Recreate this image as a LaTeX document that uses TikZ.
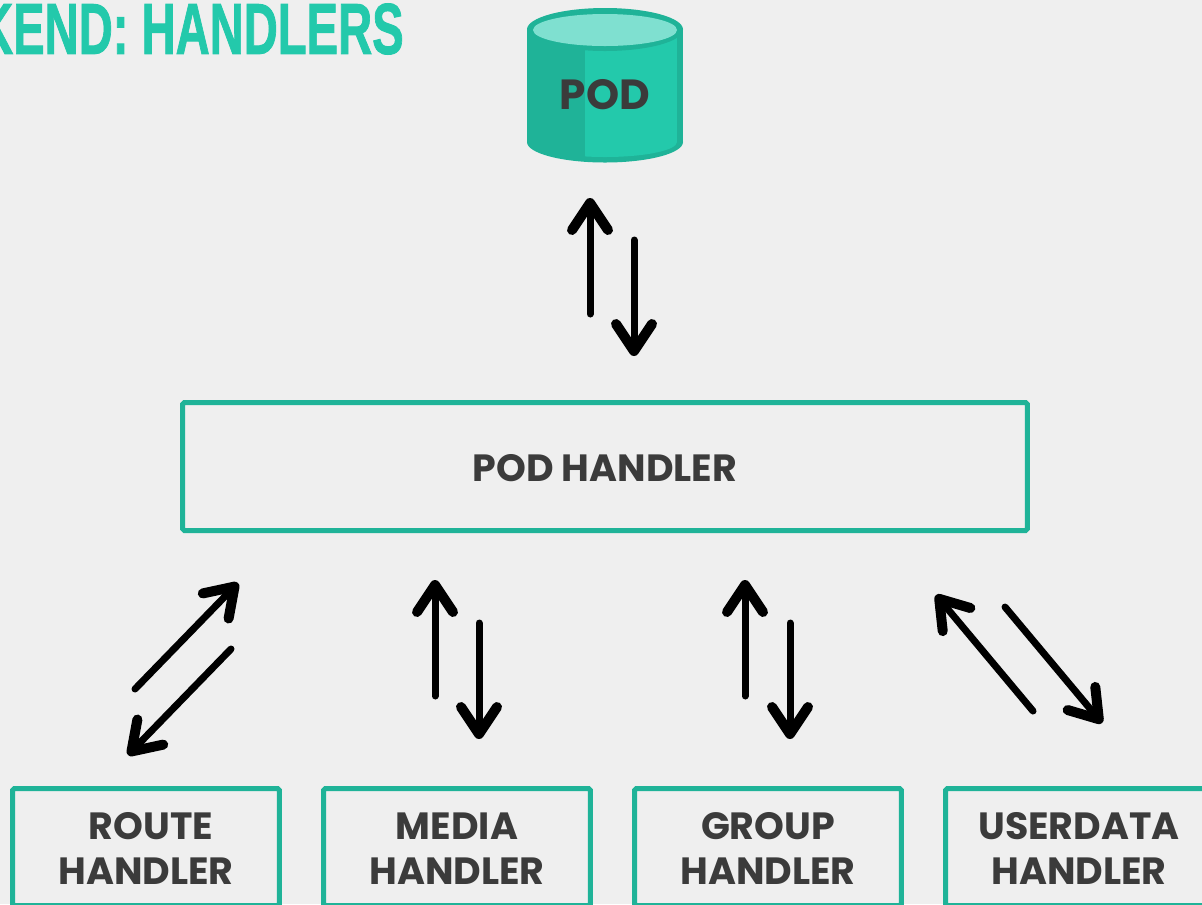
\documentclass[tikz,border=0pt]{standalone}
\usepackage{fontspec}
\setmainfont{Poppins}
\newfontfamily\headfont[BoldFeatures={FakeBold=1.4}]{Liberation Sans}
\usetikzlibrary{arrows.meta}
\definecolor{pagegray}{HTML}{EFEFEF}
\definecolor{tealdark}{HTML}{1FB398}
\definecolor{teallight}{HTML}{23C9AB}
\definecolor{tealpale}{HTML}{7FE0D0}
\definecolor{textgray}{HTML}{3B3B3B}
\newcommand{\lowertext}[1]{\raisebox{-0.85pt}[\height][\depth]{#1}}

\begin{document}
\begin{tikzpicture}[x=0.02cm,y=-0.02cm]
\tikzstyle boxstyle=[draw=tealdark, line width=0.1cm, rounded corners=1pt, text=textgray, font=\bfseries\fontsize{21.6}{25.5}\selectfont, align=center, inner sep=0pt];
\tikzstyle smallbox=[boxstyle, minimum width=5.34cm, minimum height=2.34cm];
\tikzstyle arrowstyle=[line width=0.14cm, line cap=round, -{Straight Barb[round, length=0.54cm, width=0.72cm, line width=0.2cm]}];
\useasboundingbox (0,0) rectangle (1202,904);
\clip (0,0) rectangle (1202,904);
\fill[pagegray] (0,0) rectangle (1202,904);

\node[anchor=east, xscale=0.655, text=teallight, inner sep=0pt, font=\headfont\bfseries\fontsize{41}{41}\selectfont] (title) at (404,29) {KEND: HANDLERS};

\fill[tealdark] (527,29) rectangle (683,142);
\fill[tealdark] (605,142) ellipse [x radius=78, y radius=20.5];
\begin{scope}
\clip (585,0) rectangle (677,904);
\fill[teallight] (533,29) rectangle (677,142);
\fill[teallight] (605,142) ellipse [x radius=72, y radius=15];
\end{scope}
\fill[tealdark] (605,29.5) ellipse [x radius=78, y radius=21.5];
\fill[tealpale] (605,30) ellipse [x radius=72, y radius=16];
\node[text=textgray, inner sep=0pt, font=\bfseries\fontsize{24}{24}\selectfont] (pod) at (605,95) {POD};

\node[boxstyle, minimum width=16.9cm, minimum height=2.56cm] (podhandler) at (605,466.5) {\lowertext{POD HANDLER}};
\node[smallbox] (route) at (146,847) {\lowertext{\hspace*{0.2cm}ROUTE}\\\lowertext{HANDLER}};
\node[smallbox] (media) at (457,847) {\lowertext{MEDIA}\\\lowertext{HANDLER}};
\node[smallbox] (group) at (768,847) {\lowertext{GROUP}\\\lowertext{HANDLER}};
\node[smallbox] (userdata) at (1079,847) {\lowertext{USERDATA}\\\lowertext{HANDLER}};

\coordinate (podUpA) at (590,314);
\coordinate (podUpB) at (590,198);
\coordinate (podDownA) at (634,240);
\coordinate (podDownB) at (634,356);
\coordinate (routeUpA) at (135,689);
\coordinate (routeUpB) at (238,583);
\coordinate (routeDownA) at (231,649);
\coordinate (routeDownB) at (128,755);
\coordinate (mediaUpA) at (435,696);
\coordinate (mediaUpB) at (435,580);
\coordinate (mediaDownA) at (479,623);
\coordinate (mediaDownB) at (479,739);
\coordinate (groupUpA) at (745,696);
\coordinate (groupUpB) at (745,580);
\coordinate (groupDownA) at (790,623);
\coordinate (groupDownB) at (790,739);
\coordinate (userUpA) at (1033,711);
\coordinate (userUpB) at (936,595);
\coordinate (userDownA) at (1005,607);
\coordinate (userDownB) at (1102,723);

\draw[arrowstyle] (podUpA) -- (podUpB);
\draw[arrowstyle] (podDownA) -- (podDownB);
\draw[arrowstyle] (routeUpA) -- (routeUpB);
\draw[arrowstyle] (routeDownA) -- (routeDownB);
\draw[arrowstyle] (mediaUpA) -- (mediaUpB);
\draw[arrowstyle] (mediaDownA) -- (mediaDownB);
\draw[arrowstyle] (groupUpA) -- (groupUpB);
\draw[arrowstyle] (groupDownA) -- (groupDownB);
\draw[arrowstyle] (userUpA) -- (userUpB);
\draw[arrowstyle] (userDownA) -- (userDownB);
\end{tikzpicture}
\end{document}
